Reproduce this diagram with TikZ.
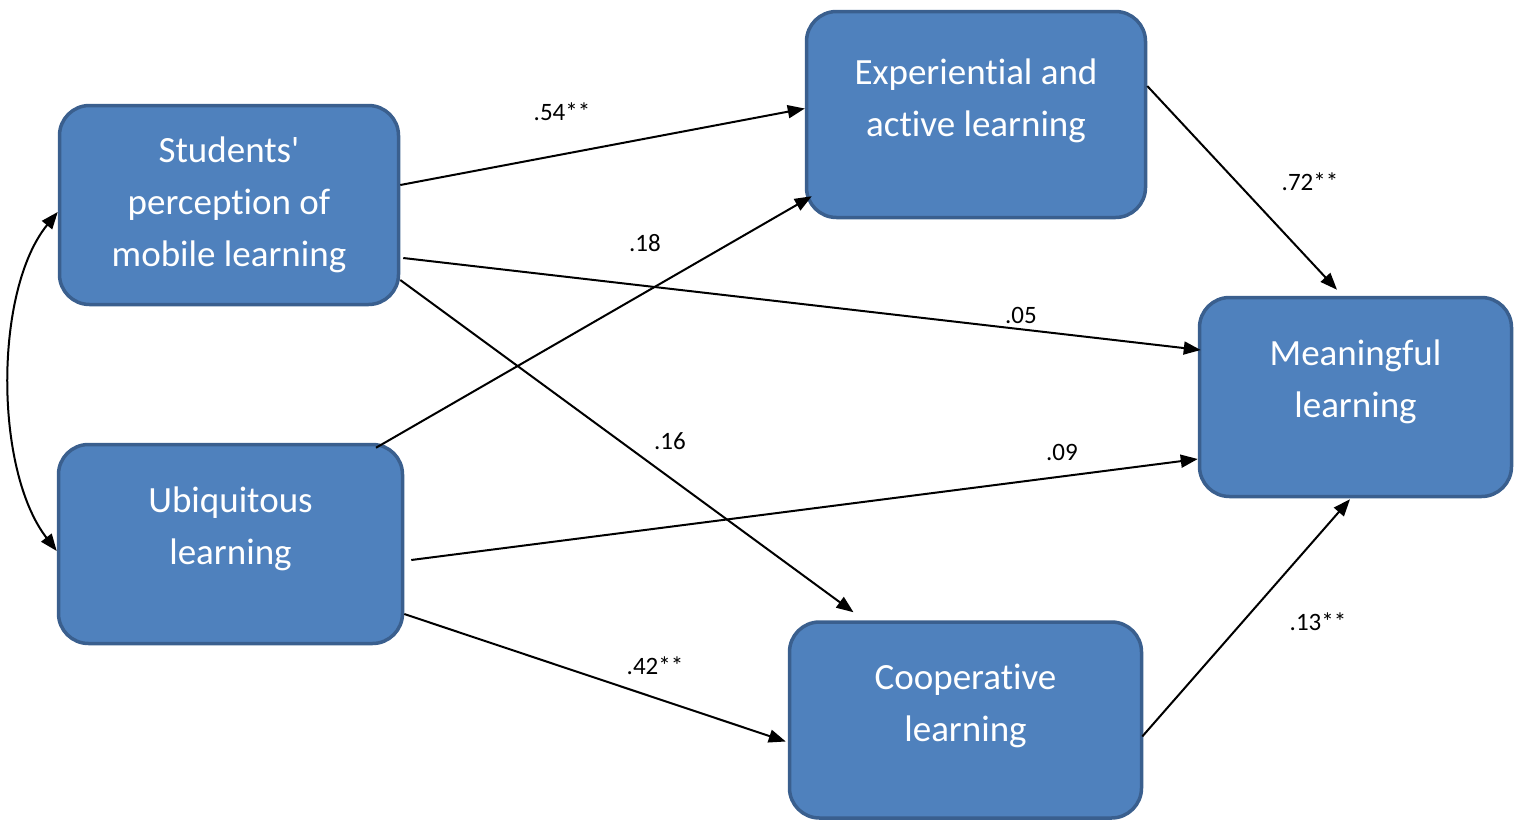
\documentclass[tikz,border=0pt]{standalone}
\usepackage{fontspec}
\setmainfont{Carlito}[Ligatures={TeXOff,NoCommon}]
\usetikzlibrary{arrows.meta}
\definecolor{boxfill}{HTML}{4F81BD}
\definecolor{boxline}{HTML}{3A5F8E}
\begin{document}
\begin{tikzpicture}[x=1pt,y=-1pt,
  varbox/.style={draw=boxline,fill=boxfill,line width=3.5pt,rounded corners=30pt,inner sep=0pt},
  boxtext/.style={text=white,align=center,font=\fontsize{37}{52}\selectfont},
  coef/.style={font=\fontsize{25}{28}\selectfont,inner sep=0pt},
  path/.style={line width=2pt,-{Triangle[length=17pt,width=13pt]}}]
\useasboundingbox (0,0) rectangle (1523,822);
% latent variables
\node[varbox,minimum width=339pt,minimum height=199pt] (sp) at (229,205) {};
\node[varbox,minimum width=344pt,minimum height=199pt] (ub) at (230.5,544) {};
\node[varbox,minimum width=339pt,minimum height=206pt] (ex) at (976,114.5) {};
\node[varbox,minimum width=312pt,minimum height=199pt] (ml) at (1355.5,397) {};
\node[varbox,minimum width=352pt,minimum height=196pt] (co) at (965.5,720) {};
% box captions
\node[boxtext] (spt) at (sp.center) {Students'\\perception of\\mobile learning};
\node[boxtext,yshift=15pt] (ubt) at (ub.center) {Ubiquitous\\learning};
\node[boxtext,yshift=14pt] (ext) at (ex.center) {Experiential and\\active learning};
\node[boxtext,yshift=15pt] (mlt) at (ml.center) {Meaningful\\learning};
\node[boxtext,yshift=14pt] (cot) at (co.center) {Cooperative\\learning};
% correlation between the two predictors
\draw[line width=2pt,{Triangle[length=17pt,width=13pt]}-{Triangle[length=17pt,width=13pt]}]
  ([yshift=-7pt]sp.west) .. controls (-6,290) and (-6,470) .. ([yshift=-7pt]ub.west);
% structural paths
\draw[path] ([yshift=20pt]sp.east) -- ([yshift=6pt]ex.west);
\draw[path] ([xshift=3pt,yshift=-53pt]sp.east) -- ([xshift=3pt,yshift=47pt]ml.west);
\draw[path] ([yshift=-75pt]sp.east) -- ([xshift=-112pt,yshift=8pt]co.north);
\draw[path] ([xshift=145.5pt,yshift=-5pt]ub.north) -- ([xshift=7pt,yshift=23pt]ex.south west);
\draw[path] ([xshift=7pt,yshift=-16pt]ub.east) -- ([yshift=-62pt]ml.west);
\draw[path] ([yshift=-70pt]ub.east) -- ([xshift=-2pt,yshift=-21.5pt]co.west);
\draw[path] ([yshift=28.5pt]ex.east) -- ([xshift=-18.5pt,yshift=6pt]ml.north);
\draw[path] ([xshift=-1pt,yshift=-16.5pt]co.east) -- ([xshift=-5.5pt,yshift=-1pt]ml.south);
% path coefficients
\node[coef] (c1) at (562,112) {.54**};
\node[coef] (c2) at (645,243) {.18};
\node[coef] (c3) at (1021,315) {.05};
\node[coef] (c4) at (670,441) {.16};
\node[coef] (c5) at (1062,452) {.09};
\node[coef] (c6) at (655,666) {.42**};
\node[coef] (c7) at (1310,182) {.72**};
\node[coef] (c8) at (1318,622) {.13**};
\end{tikzpicture}
\end{document}
